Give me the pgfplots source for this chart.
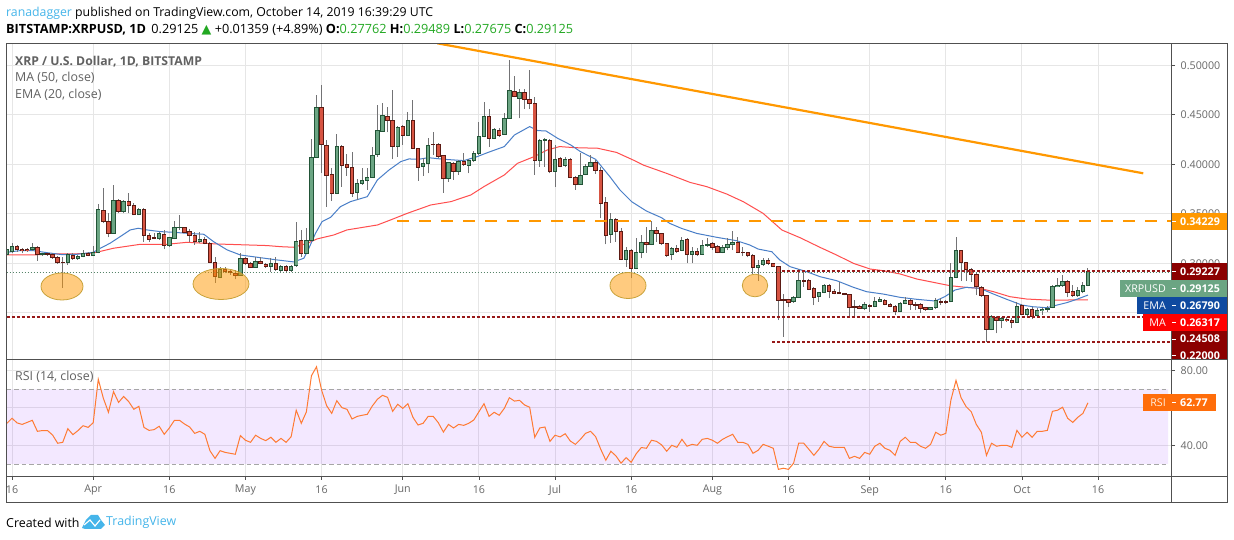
\documentclass[border=0pt]{standalone}
\usepackage{pgfplots}
\usepackage{pgfplotstable}
\usepackage{fontspec}
\pgfplotsset{compat=1.18}
\setmainfont{Open Sans}
\newfontfamily\djv{DejaVu Sans}
\definecolor{upf}{HTML}{6BA583}
\definecolor{dnf}{HTML}{D75442}
\definecolor{upb}{HTML}{225437}
\definecolor{dnb}{HTML}{5B1A13}
\definecolor{wick}{HTML}{737375}
\definecolor{gridc}{HTML}{E6E6E6}
\definecolor{frame}{HTML}{505050}
\definecolor{ticktxt}{HTML}{666666}
\definecolor{orangeL}{HTML}{FF9800}
\definecolor{darkred}{HTML}{8B0000}
\definecolor{emac}{HTML}{4A7FC8}
\definecolor{mac}{HTML}{FF3B3B}
\definecolor{rsic}{HTML}{FF7A33}
\definecolor{tvblue}{HTML}{45B5EA}
\definecolor{hgreen}{HTML}{22A822}
\definecolor{emabox}{HTML}{0F4AA0}
\definecolor{rsibox}{HTML}{FF6D0A}
\definecolor{ellb}{HTML}{C8A23A}
\definecolor{bandc}{HTML}{8A1FFF}
\pgfplotstableread{
t o h l c
-1 .3084 .3152 .3067 .3135
0 .3118 .3202 .3101 .3168
1 .3168 .3185 .3118 .3135
2 .3142 .3152 .3101 .3128
3 .3142 .3150 .3115 .3131
4 .3142 .3202 .3128 .3162
5 .3162 .3175 .3027 .3091
6 .3084 .3108 .3074 .3094
7 .3094 .3105 .3078 .3089
8 .3088 .3108 .3047 .3057
9 .3060 .3074 .2997 .3007
10 .3013 .3067 .2754 .3007
11 .3007 .3101 .2983 .3084
12 .3081 .3101 .3034 .3051
13 .3051 .3084 .3037 .3071
14 .3071 .3135 .3060 .3098
15 .3098 .3111 .3071 .3081
16 .3078 .3175 .3074 .3108
17 .3108 .3599 .3101 .3546
18 .3535 .3758 .3404 .3421
19 .3421 .3505 .3263 .3303
20 .3303 .3791 .3296 .3636
21 .3636 .3647 .3505 .3522
22 .3522 .3640 .3505 .3626
23 .3626 .3707 .3505 .3579
24 .3586 .3606 .3485 .3492
25 .3492 .3556 .3485 .3542
26 .3542 .3556 .3219 .3283
27 .3283 .3303 .3219 .3242
28 .3256 .3303 .3242 .3249
29 .3249 .3320 .3236 .3303
30 .3293 .3337 .3142 .3182
31 .3178 .3269 .3168 .3256
32 .3249 .3431 .3242 .3360
33 .3360 .3488 .3337 .3364
34 .3357 .3370 .3303 .3313
35 .3323 .3343 .3219 .3280
36 .3280 .3320 .3185 .3222
37 .3222 .3320 .3209 .3236
38 .3242 .3263 .3192 .3202
39 .3202 .3219 .3000 .3010
40 .3010 .3067 .2805 .2869
41 .2855 .2966 .2849 .2939
42 .2939 .2966 .2899 .2919
43 .2916 .2939 .2882 .2906
44 .2899 .2933 .2838 .2879
45 .2879 .3101 .2875 .3047
46 .3051 .3067 .2983 .2993
47 .2997 .3017 .2950 .2960
48 .2960 .3067 .2953 .3020
49 .3017 .3067 .2990 .3000
50 .2990 .3007 .2950 .2970
51 .2970 .3051 .2916 .3000
52 .3000 .3067 .2926 .2939
53 .2929 .2983 .2916 .2970
54 .2970 .2983 .2916 .2929
55 .2929 .2983 .2916 .2970
56 .2973 .3421 .2966 .3222
57 .3229 .3337 .3067 .3101
58 .3101 .3354 .3094 .3232
59 .3229 .4256 .3222 .4071
60 .4071 .4700 .4071 .4576
61 .4576 .4801 .3909 .4202
62 .4192 .4246 .3572 .3889
63 .3899 .3960 .3633 .3707
64 .3707 .4303 .3700 .4182
65 .4182 .4195 .3775 .3990
66 .4000 .4101 .3882 .3970
67 .3970 .4128 .3673 .3707
68 .3717 .3849 .3640 .3808
69 .3808 .3960 .3791 .3838
70 .3838 .3960 .3741 .3869
71 .3869 .4172 .3862 .4091
72 .4101 .4599 .4078 .4344
73 .4333 .4616 .4327 .4495
74 .4485 .4583 .4323 .4445
75 .4445 .4751 .4051 .4182
76 .4182 .4387 .4078 .4374
77 .4384 .4397 .4195 .4293
78 .4293 .4532 .4286 .4445
79 .4445 .4650 .4152 .4162
80 .4162 .4168 .3835 .3970
81 .3980 .4061 .3886 .4010
82 .4010 .4269 .3909 .4192
83 .4205 .4323 .4094 .4199
84 .4202 .4212 .4061 .4081
85 .4088 .4094 .3714 .3859
86 .3859 .4027 .3825 .4020
87 .4010 .4027 .3842 .3929
88 .3929 .4044 .3892 .4030
89 .4030 .4111 .3983 .4000
90 .3990 .4051 .3909 .4040
91 .4040 .4138 .4027 .4111
92 .4111 .4424 .4094 .4283
93 .4283 .4633 .4273 .4485
94 .4485 .4559 .4179 .4263
95 .4263 .4364 .4253 .4354
96 .4344 .4364 .4280 .4293
97 .4303 .4515 .4296 .4465
98 .4465 .5054 .4458 .4748
99 .4737 .4892 .4677 .4687
100 .4667 .4758 .4465 .4727
101 .4727 .4758 .4556 .4657
102 .4657 .4953 .4556 .4616
103 .4616 .4684 .3892 .4040
104 .4040 .4253 .3976 .4243
105 .4243 .4263 .3976 .4249
106 .4243 .4253 .3909 .3929
107 .3929 .4195 .3775 .4051
108 .4061 .4078 .3970 .3980
109 .3990 .4071 .3970 .4051
110 .4051 .4061 .3859 .3869
111 .3869 .3882 .3741 .3798
112 .3798 .4111 .3791 .3889
113 .3899 .4003 .3889 .3980
114 .3980 .4094 .3970 .4020
115 .4019 .4043 .3902 .3939
116 .3939 .3976 .3454 .3605
117 .3615 .3673 .3191 .3282
118 .3292 .3504 .3208 .3444
119 .3444 .3454 .3218 .3322
120 .3322 .3353 .3033 .3040
121 .3040 .3168 .2966 .3131
122 .3131 .3141 .2848 .2949
123 .2949 .3252 .2942 .3110
124 .3110 .3285 .3050 .3211
125 .3211 .3370 .3107 .3191
126 .3191 .3427 .3184 .3333
127 .3333 .3363 .3218 .3302
128 .3302 .3309 .3184 .3201
129 .3201 .3208 .3067 .3080
130 .3090 .3161 .3033 .3151
131 .3151 .3184 .3107 .3120
132 .3131 .3262 .3124 .3232
133 .3242 .3252 .2999 .3090
134 .3090 .3168 .2999 .3120
135 .3120 .3151 .3073 .3090
136 .3090 .3235 .3083 .3181
137 .3181 .3252 .3168 .3191
138 .3201 .3218 .3134 .3161
139 .3171 .3184 .3100 .3110
140 .3110 .3184 .3100 .3161
141 .3161 .3252 .3134 .3191
142 .3191 .3329 .3134 .3211
143 .3211 .3262 .3100 .3110
144 .3110 .3168 .3073 .3107
145 .3107 .3117 .3060 .3077
146 .3080 .3093 .2891 .2959
147 .2959 .3033 .2824 .2979
148 .2989 .3050 .2972 .3029
149 .3029 .3050 .2982 .2999
150 .2999 .3006 .2959 .2969
151 .2969 .2976 .2427 .2625
152 .2632 .2686 .2258 .2625
153 .2632 .2639 .2555 .2602
154 .2615 .2669 .2602 .2656
155 .2656 .2939 .2649 .2827
156 .2827 .2915 .2763 .2817
157 .2827 .2838 .2730 .2737
158 .2747 .2757 .2578 .2656
159 .2666 .2713 .2612 .2706
160 .2706 .2787 .2696 .2777
161 .2777 .2787 .2646 .2716
162 .2716 .2737 .2686 .2696
163 .2700 .2814 .2686 .2693
164 .2696 .2703 .2676 .2686
165 .2686 .2693 .2461 .2555
166 .2565 .2629 .2461 .2555
167 .2565 .2578 .2535 .2545
168 .2545 .2612 .2528 .2585
169 .2575 .2588 .2511 .2568
170 .2565 .2662 .2555 .2615
171 .2615 .2662 .2605 .2635
172 .2625 .2635 .2575 .2585
173 .2585 .2595 .2555 .2565
174 .2565 .2575 .2477 .2514
175 .2511 .2612 .2504 .2595
176 .2595 .2663 .2585 .2622
177 .2625 .2642 .2528 .2582
178 .2585 .2612 .2528 .2578
179 .2582 .2595 .2501 .2545
180 .2551 .2562 .2521 .2535
181 .2535 .2562 .2528 .2551
182 .2551 .2646 .2541 .2625
183 .2612 .2646 .2578 .2605
184 .2612 .2629 .2589 .2605
185 .2612 .3000 .2605 .2858
186 .2858 .3269 .2851 .3131
187 .3131 .3137 .2821 .3009
188 .3009 .3016 .2821 .2939
189 .2939 .2949 .2814 .2888
190 .2888 .2898 .2679 .2767
191 .2757 .2770 .2663 .2676
192 .2676 .2683 .2208 .2333
193 .2333 .2477 .2326 .2464
194 .2454 .2467 .2292 .2423
195 .2427 .2461 .2343 .2444
196 .2437 .2454 .2410 .2423
197 .2423 .2444 .2343 .2403
198 .2403 .2612 .2397 .2565
199 .2575 .2588 .2477 .2484
200 .2484 .2545 .2467 .2535
201 .2535 .2555 .2434 .2464
202 .2471 .2545 .2461 .2524
203 .2524 .2555 .2477 .2535
204 .2535 .2568 .2511 .2545
205 .2555 .2777 .2545 .2767
206 .2763 .2848 .2757 .2774
207 .2774 .2881 .2763 .2817
208 .2817 .2831 .2656 .2706
209 .2713 .2780 .2663 .2673
210 .2673 .2757 .2663 .2727
211 .2716 .2814 .2696 .2777
212 .27762 .29489 .27675 .29125
}\candles
\pgfplotstableread{
t v
-1 .3111
1.6 .3128
4.2 .3128
6.8 .3108
9.8 .3088
12.8 .3091
16 .3111
17.4 .3152
19.3 .3202
21.3 .3269
23.3 .3337
24.9 .3354
26.6 .3337
29.2 .3320
31.8 .3313
34.5 .3303
37.8 .3293
39.7 .3219
42.4 .3135
45 .3084
48.9 .3057
52.2 .3034
55.5 .3014
57.5 .3051
58.5 .3152
59.8 .3303
61.1 .3421
62.8 .3465
64.7 .3572
66.7 .3623
70 .3673
72 .3842
74.3 .3943
76.6 .4027
78.2 .4054
80.2 .4051
82 .4067
85 .4051
89 .4037
91.7 .4078
93.7 .4118
97 .4179
99 .4296
102 .4381
103.6 .4340
105.2 .4337
107.5 .4263
110.1 .4195
112 .4128
115 .4050
117.8 .3875
119.8 .3740
122.1 .3622
125 .3528
128 .3460
129.6 .3403
131.9 .3353
134.9 .3302
138.9 .3262
142.8 .3228
145.4 .3184
147 .3144
149.7 .3117
151.3 .3033
153.3 .2966
156.6 .2915
159.2 .2865
162.5 .2824
165.8 .2757
168.4 .2713
171.7 .2689
175 .2656
178.3 .2636
181.9 .2619
183.8 .2663
185.8 .2730
188 .2757
190.7 .2747
193.4 .2689
196 .2636
199 .2578
201.2 .2561
203.9 .2551
205.9 .2578
207.8 .2602
209.8 .2636
212 .2679
}\ema
\pgfplotstableread{
t v
-1 .3084
4.2 .3084
8.2 .3094
14.1 .3097
16.4 .3108
20 .3152
25.3 .3192
30.5 .3192
34.5 .3212
40.4 .3195
50.3 .3179
52.9 .3168
55.5 .3162
58.2 .3202
60.1 .3246
63.4 .3286
66 .3337
72 .3387
74.6 .3438
77.9 .3505
82.5 .3589
86.5 .3623
90.4 .3690
93 .3775
97 .3892
99.6 .4010
102.9 .4078
105.5 .4145
107.9 .4179
110.8 .4168
115.4 .4162
119.1 .4120
122.4 .4043
124.4 .3992
129 .3908
133.6 .3817
136.9 .3774
140.8 .3700
144.1 .3622
148 .3504
151.7 .3336
155.3 .3258
159.2 .3161
162.5 .3083
165.8 .2999
169.1 .2942
171.7 .2925
175 .2892
178.3 .2841
181.9 .2804
184.8 .2774
188 .2757
190.7 .2747
193.4 .2713
196.6 .2663
199.9 .2639
203.9 .2629
207.8 .2629
212 .26317
}\ma
\pgfplotstableread{
t r
-1 51.8
0 54.5
1 52.0
2 51.2
3 52.3
4 53.4
5 47.5
6 47.9
7 47.9
8 45.5
9 41.1
10 41.6
11 48.9
12 45.7
13 47.9
14 50.5
15 49.6
16 52.1
17 75.4
18 65.2
19 57.7
20 68.8
21 63.0
22 66.2
23 63.4
24 59.3
25 60.9
26 49.6
27 48.0
28 48.4
29 50.2
30 45.9
31 49.3
32 53.4
33 53.4
34 51.4
35 49.8
36 46.4
37 47.5
38 45.9
39 37.1
40 33.0
41 37.1
42 36.2
43 35.7
44 35.2
45 45.2
46 42.7
47 41.6
48 45.4
49 43.7
50 42.5
51 44.3
52 41.6
53 43.7
54 41.6
55 44.6
56 58.8
57 51.8
58 57.9
59 77.3
60 82.1
61 69.6
62 61.2
63 57.1
64 63.9
65 60.2
66 59.3
67 54.1
68 55.5
69 56.1
70 56.6
71 61.1
72 64.7
73 66.8
74 65.7
75 58.2
76 62.0
77 59.8
78 62.3
79 55.0
80 50.9
81 51.8
82 55.5
83 55.5
84 52.1
85 47.1
86 51.2
87 49.3
88 51.2
89 50.7
90 51.8
91 53.6
92 58.0
93 62.3
94 55.5
95 57.7
96 56.1
97 59.8
98 65.5
99 63.7
100 64.1
101 61.6
102 60.4
103 44.3
104 49.3
105 49.8
106 42.1
107 45.4
108 44.5
109 46.2
110 42.3
111 40.5
112 43.2
113 46.4
114 47.5
115 44.6
116 37.9
117 32.0
118 36.8
119 34.3
120 30.4
121 33.4
122 30.9
123 35.5
124 38.8
125 38.4
126 42.7
127 42.1
128 40.2
129 36.8
130 40.0
131 38.9
132 43.2
133 39.5
134 40.5
135 40.0
136 43.2
137 43.7
138 42.7
139 41.1
140 43.2
141 44.6
142 45.9
143 41.6
144 41.6
145 40.5
146 35.7
147 37.3
148 40.5
149 39.5
150 38.4
151 27.1
152 27.7
153 27.1
154 30.4
155 41.1
156 41.1
157 37.9
158 34.6
159 37.9
160 42.1
161 39.5
162 38.9
163 38.9
164 38.9
165 33.0
166 34.1
167 33.0
168 36.2
169 35.2
170 39.5
171 41.1
172 38.4
173 37.3
174 34.6
175 42.1
176 44.3
177 41.6
178 41.6
179 39.5
180 38.4
181 40.5
182 47.0
183 45.4
184 46.4
185 64.3
186 74.8
187 65.5
188 60.7
189 58.0
190 51.2
191 47.0
192 34.6
193 41.1
194 39.5
195 40.0
196 40.0
197 38.9
198 48.0
199 44.3
200 47.0
201 44.3
202 47.5
203 47.5
204 48.0
205 58.2
206 58.8
207 60.4
208 54.5
209 52.3
210 55.0
211 57.1
212 62.77
}\rsi
\pgfplotsset{
  tvbase/.style={
    scale only axis, width=1165.2pt,
    xmin=-1.084, xmax=228.5,
    xtick={0,16,31,46,61,77,92,107,122,138,153,169,184,199,214},
    grid=major, grid style={gridc, line width=1pt},
    axis line style={frame, line width=1pt},
    major tick length=3.5pt,
    tick style={frame, line width=.8pt},
    tick align=outside,
    ymajorgrids, xmajorgrids,
    ytick pos=right, yticklabel pos=right,
    xtick pos=bottom,
    tick label style={font=\fontsize{10.7}{13}\selectfont, text=ticktxt},
    every y tick label/.append style={xshift=2pt},
    scaled y ticks=false,
  }
}
\begin{document}
\begin{tikzpicture}
\useasboundingbox (0pt,0pt) rectangle (1234pt,540pt);
\fill[white] (0pt,0pt) rectangle (1234pt,540pt);
\begin{axis}[tvbase, at={(6.5pt,180.6pt)}, anchor=south west, height=315.9pt,
  ymin=.20293, ymax=.52202,
  xticklabels={},
  major x tick style={draw=none},
  ytick={.25,.30,.35,.40,.45,.50},
  yticklabels={{},0.30000,0.35000,0.40000,0.45000,0.50000},
]
\addplot[mac, line width=1pt, opacity=.9] table[x=t,y=v] {\ma};
\addplot[emac, line width=1pt] table[x=t,y=v] {\ema};
\addplot[draw=none, mark=none, forget plot, error bars/.cd, y dir=plus, y explicit, error mark=none,
  error bar style={line width=1pt, color=wick}]
  table[x=t, y=l, y error plus expr=\thisrow{h}-\thisrow{l}] {\candles};
\addplot[draw=none, mark=none, forget plot, error bars/.cd, y dir=plus, y explicit, error mark=none,
  error bar style={line width=4.4pt, color=upb}]
  table[x=t, y expr=\thisrow{o}-0.0005, y error plus expr={\thisrow{c}>=\thisrow{o} ? \thisrow{c}-\thisrow{o}+0.001 : 0}] {\candles};
\addplot[draw=none, mark=none, forget plot, error bars/.cd, y dir=plus, y explicit, error mark=none,
  error bar style={line width=2.6pt, color=upf}]
  table[x=t, y expr=\thisrow{o}+0.0005, y error plus expr={\thisrow{c}-\thisrow{o}-0.001>0 ? \thisrow{c}-\thisrow{o}-0.001 : 0}] {\candles};
\addplot[draw=none, mark=none, forget plot, error bars/.cd, y dir=plus, y explicit, error mark=none,
  error bar style={line width=4.4pt, color=dnb}]
  table[x=t, y expr=\thisrow{c}-0.0005, y error plus expr={\thisrow{c}<\thisrow{o} ? \thisrow{o}-\thisrow{c}+0.001 : 0}] {\candles};
\addplot[draw=none, mark=none, forget plot, error bars/.cd, y dir=plus, y explicit, error mark=none,
  error bar style={line width=2.6pt, color=dnf}]
  table[x=t, y expr=\thisrow{c}+0.0005, y error plus expr={\thisrow{o}-\thisrow{c}-0.001>0 ? \thisrow{o}-\thisrow{c}-0.001 : 0}] {\candles};
% last price, support and resistance lines
\addplot[upf!80!black, line width=.8pt, dash pattern=on 1.5pt off 1.5pt] coordinates {(-1.084,.29125)(228.5,.29125)};
\addplot[darkred!90, line width=2pt, dash pattern=on 3pt off 2pt] coordinates {(151.7,.29227)(228.5,.29227)};
\addplot[darkred!90, line width=2pt, dash pattern=on 3pt off 2pt] coordinates {(-1.084,.2458)(228.5,.2458)};
\addplot[darkred!90, line width=2pt, dash pattern=on 3pt off 2pt] coordinates {(149.8,.2205)(228.5,.2205)};
\addplot[orangeL, line width=2pt, dash pattern=on 12pt off 10pt] coordinates {(75.9,.34229)(228.5,.34229)};
\addplot[orangeL, line width=2.2pt] coordinates {(83.8,.5222)(222.9,.3909)};
\end{axis}
\begin{axis}[tvbase, at={(6.5pt,63.7pt)}, anchor=south west, height=116.9pt,
  ymin=23.38, ymax=86.06,
  ytick={40,60,80},
  yticklabels={40.00,{},80.00},
  xticklabels={16,Apr,16,May,16,Jun,16,Jul,16,Aug,16,Sep,16,Oct,16},
  x tick label style={yshift=-2pt},
]
\addplot[fill=bandc, fill opacity=.1, draw=none] coordinates {(-1.084,30)(227.8,30)(227.8,70)(-1.084,70)} \closedcycle;
\addplot[black!35, line width=.8pt, dash pattern=on 4.5pt off 3pt] coordinates {(-1.084,70)(227.8,70)};
\addplot[black!35, line width=.8pt, dash pattern=on 4.5pt off 3pt] coordinates {(-1.084,30)(227.8,30)};
\addplot[rsic, line width=1pt] table[x=t,y=r] {\rsi};
\end{axis}
% outer frame
\draw[frame, line width=1pt] (6.5pt,37pt) rectangle (1227.5pt,496.5pt);
\draw[frame, line width=1pt] (1171.7pt,37pt) -- (1171.7pt,496.5pt);
\draw[frame, line width=1pt] (6.5pt,180.6pt) -- (1227.5pt,180.6pt);
\draw[frame, line width=1pt] (6.5pt,63.7pt) -- (1227.5pt,63.7pt);
% chart-marked circles
\foreach \cx/\cy/\rx/\ry in {62/253.5/21/13.5, 221/256/28/15.5, 628/254.5/18/13, 755/254.5/12.7/11.3}{
  \filldraw[fill=orangeL, fill opacity=.5, draw=ellb, line width=.8pt]
    (\cx pt,\cy pt) ellipse [x radius=\rx pt, y radius=\ry pt];
}
% price tags
\def\tagfont{\fontsize{10.7}{13}\selectfont}
\fill[orangeL] (1172.2pt,310pt) rectangle (1227pt,327.3pt);
\node[anchor=west, text=white, font=\tagfont\bfseries, inner sep=0pt] at (1180pt,318.6pt) {0.34229};
\fill[darkred] (1172.2pt,260pt) rectangle (1227pt,277.3pt);
\node[anchor=west, text=white, font=\tagfont\bfseries, inner sep=0pt] at (1180pt,268.6pt) {0.29227};
\fill[upf] (1120pt,242.7pt) rectangle (1227pt,260pt);
\node[anchor=east, text=white, font=\tagfont, inner sep=0pt] at (1166pt,251.4pt) {XRPUSD};
\node[anchor=west, text=white, font=\tagfont\bfseries, inner sep=0pt] at (1180pt,251.4pt) {0.29125};
\fill[emabox] (1137pt,226pt) rectangle (1227pt,242.7pt);
\node[anchor=east, text=white, font=\tagfont, inner sep=0pt] at (1166pt,234.3pt) {EMA};
\node[anchor=west, text=white, font=\tagfont\bfseries, inner sep=0pt] at (1180pt,234.3pt) {0.26790};
\fill[red] (1143pt,209.3pt) rectangle (1227pt,226pt);
\node[anchor=east, text=white, font=\tagfont, inner sep=0pt] at (1166pt,217.6pt) {MA};
\node[anchor=west, text=white, font=\tagfont\bfseries, inner sep=0pt] at (1180pt,217.6pt) {0.26317};
\fill[darkred] (1172.2pt,181.1pt) rectangle (1227pt,209.3pt);
\node[anchor=west, text=white, font=\tagfont\bfseries, inner sep=0pt] at (1180pt,201pt) {0.24508};
\begin{scope}
\clip (1172.2pt,181.1pt) rectangle (1227pt,190pt);
\node[anchor=west, text=white, font=\tagfont\bfseries, inner sep=0pt] at (1180pt,184.6pt) {0.22000};
\end{scope}
\fill[rsibox] (1143pt,129.3pt) rectangle (1216pt,146pt);
\node[anchor=east, text=white!85!orange, font=\tagfont, inner sep=0pt] at (1166pt,137.6pt) {RSI};
\node[anchor=west, text=white, font=\tagfont\bfseries, inner sep=0pt] at (1180pt,137.6pt) {62.77};
\foreach \ty in {318.6,268.6,251.4,234.3,217.6,201,184.6,137.6}{\draw[white, line width=.8pt] (1172.2pt,\ty pt) -- (1176pt,\ty pt);}
% pane legends
\node[anchor=west, inner sep=0pt, text=black!62, font=\fontsize{12.2}{15}\selectfont\bfseries] at (15pt,478.8pt) {XRP / U.S. Dollar, 1D, BITSTAMP};
\node[anchor=west, inner sep=0pt, text=black!62, font=\fontsize{12.4}{15}\selectfont] at (15pt,462.2pt) {MA (50, close)};
\node[anchor=west, inner sep=0pt, text=black!62, font=\fontsize{12.4}{15}\selectfont] at (15pt,444.8pt) {EMA (20, close)};
\node[anchor=west, inner sep=0pt, text=black!62, font=\fontsize{12.4}{15}\selectfont] at (15pt,162.8pt) {RSI (14, close)};
% header
\node[anchor=west, inner sep=0pt, font=\fontsize{12.3}{15}\selectfont] at (6pt,527pt)
  {\textcolor{tvblue}{ranadagger} published on TradingView.com, October 14, 2019 16:39:29 UTC};
\node[anchor=west, inner sep=0pt, font=\fontsize{12.7}{15}\selectfont] at (6pt,510pt)
  {\textbf{BITSTAMP:XRPUSD, 1D} \,0.29125 \textcolor{hgreen}{\djv ▲} +0.01359 (+4.89\%) \textbf{O:}\textcolor{hgreen}{0.27762} \textbf{H:}\textcolor{hgreen}{0.29489} \textbf{L:}\textcolor{hgreen}{0.27675} \textbf{C:}\textcolor{hgreen}{0.29125}};
% footer
\node[anchor=west, inner sep=0pt, font=\fontsize{12.4}{15}\selectfont] at (6pt,17.3pt) {Created with};
\fill[tvblue] (82pt,12pt) -- (86pt,20pt) -- (91pt,25pt) -- (98pt,25pt) -- (101pt,20pt) -- (105pt,15pt) -- (101pt,11pt) -- (85pt,11pt) -- cycle;
\draw[white, line width=1.2pt] (84pt,15pt) -- (90pt,20pt) -- (95pt,14pt) -- (100pt,20pt);
\node[anchor=west, inner sep=0pt, text=tvblue, font=\fontsize{12.4}{15}\selectfont] at (106pt,17.3pt) {TradingView};
\end{tikzpicture}
\end{document}
